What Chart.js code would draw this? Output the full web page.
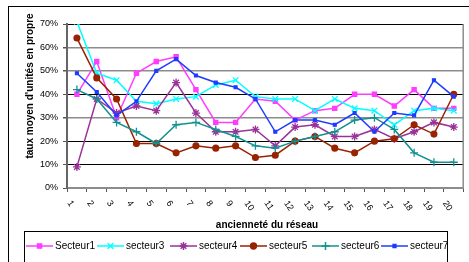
<!DOCTYPE html>
<html>
<head>
<meta charset="utf-8">
<script src="https://cdn.jsdelivr.net/npm/chart.js@4.4.1/dist/chart.umd.min.js"></script>
<style>
html,body{margin:0;padding:0;background:#fff;}
#wrap{width:469px;height:262px;position:relative;}
</style>
</head>
<body>
<div id="wrap"><canvas id="c" width="469" height="262"></canvas></div>
<script>
const categories = ['1','2','3','4','5','6','7','8','9','10','11','12','13','14','15','16','17','18','19','20'];
const yTicks = [0,10,20,30,40,50,60,70];
const seriesNames = ['Secteur1','secteur3','secteur4','secteur5','secteur6','secteur7'];
const secteur1 = [40,54,30,49,54,56,42,28,28,38,37,29,33,34,40,40,35,42,34,34];
const secteur3 = [71,49,46,37,36,38,39,44,46,39,38,38,33,38,34,33,27,33,34,33];
const secteur4 = [9,38,32,35,33,45,32,24,24,25,18,26,27,22,22,25,21,24,28,26];
const secteur5 = [64,47,38,19,19,15,18,17,18,13,14,20,22,17,15,20,21,27,23,40];
const secteur6 = [42,38,28,24,19,27,28,25,22,18,17,20,22,24,29,30,25,15,11,11];
const secteur7 = [49,41,31,37,50,55,48,45,43,38,24,29,29,27,32,24,32,31,46,39];

const styles = [
  {color:'#FF3CFF', style:'rect', r:2.9, bw:1.5},
  {color:'#00FFFF', style:'crossRot', r:4, bw:1.5},
  {color:'#993399', style:'star', r:4, bw:1.5},
  {color:'#992200', style:'circle', r:2.9, bw:1.5},
  {color:'#139191', style:'cross', r:4, bw:1.5},
  {color:'#1E3CFF', style:'rect', r:2, bw:1.5}
];
const allData = [secteur1, secteur3, secteur4, secteur5, secteur6, secteur7];

const datasets = allData.map((d,i)=>({
  label: seriesNames[i],
  data: d,
  borderColor: styles[i].color,
  backgroundColor: styles[i].color,
  borderWidth: styles[i].bw,
  pointStyle: styles[i].style,
  pointRadius: styles[i].r,
  pointBorderWidth: 1.3,
  pointBorderColor: styles[i].color,
  pointBackgroundColor: styles[i].color,
  tension: 0,
  fill: false,
  order: 6 - i
}));

const FONT = '"Liberation Sans", Arial, sans-serif';

const decor = {
  id: 'decor',
  beforeDatasetsDraw(chart) {
    const ctx = chart.ctx, a = chart.chartArea;
    ctx.save();
    ctx.strokeStyle = '#8c8c8c';
    ctx.lineWidth = 1.5;
    ctx.beginPath();
    ctx.moveTo(a.right - 0.5, a.top);
    ctx.lineTo(a.right - 0.5, a.bottom);
    ctx.stroke();
    ctx.restore();
  },
  afterDraw(chart) {
    const ctx = chart.ctx, a = chart.chartArea;
    const xs = chart.scales.x;
    ctx.save();
    ctx.strokeStyle = '#000';
    ctx.lineWidth = 1;
    ctx.strokeRect(8.5, 6.5, 520, 300);
    ctx.fillStyle = '#000';
    ctx.font = '9px ' + FONT;
    ctx.textAlign = 'center';
    ctx.textBaseline = 'middle';
    categories.forEach((c,i)=>{
      const x = xs.getPixelForValue(i);
      const w = ctx.measureText(c).width;
      ctx.save();
      ctx.translate(x - 6.5, 200 + 0.43*w + 1.5);
      ctx.rotate(Math.PI/180*55);
      ctx.fillText(c, 0, 0);
      ctx.restore();
    });
    ctx.font = 'bold 10px ' + FONT;
    ctx.textAlign = 'center';
    ctx.textBaseline = 'middle';
    ctx.fillText('ancienneté du réseau', 267, 225);
    ctx.save();
    ctx.translate(30, (a.top + a.bottom)/2 - 20);
    ctx.rotate(-Math.PI/2);
    ctx.fillText("taux moyen d'unités en propre", 0, 0);
    ctx.restore();
    ctx.strokeStyle = '#000';
    ctx.lineWidth = 1;
    ctx.strokeRect(24.5, 231.5, 423, 40);
    const lx = [26, 97, 170, 240, 312, 381];
    const ly = 246;
    ctx.font = '10px ' + FONT;
    ctx.textAlign = 'left';
    ctx.textBaseline = 'middle';
    seriesNames.forEach((n,i)=>{
      const s = styles[i];
      ctx.strokeStyle = s.color;
      ctx.lineWidth = 1.5;
      ctx.beginPath();
      ctx.moveTo(lx[i], ly);
      ctx.lineTo(lx[i] + 27, ly);
      ctx.stroke();
      Chart.helpers.drawPoint(ctx, {pointStyle: s.style, radius: s.r, borderWidth: 1.3}, lx[i] + 13.5, ly);
      if (s.style !== 'crossRot' && s.style !== 'cross' && s.style !== 'star') {
        ctx.fillStyle = s.color;
        ctx.fill();
      }
      ctx.fillStyle = '#000';
      ctx.fillText(n, lx[i] + 29, ly);
    });
    ctx.restore();
  }
};

new Chart(document.getElementById('c'), {
  type: 'line',
  data: { labels: categories, datasets },
  options: {
    responsive: false,
    animation: false,
    devicePixelRatio: 1,
    layout: { padding: { left: 0, right: 2, top: 24, bottom: 70 } },
    plugins: { legend: { display: false }, tooltip: { enabled: false } },
    scales: {
      x: {
        type: 'category',
        offset: true,
        grid: { offset: true, drawOnChartArea: false, drawTicks: true, tickLength: 4, color: '#555', lineWidth: 1 },
        border: { display: true, color: '#8c8c8c', width: 2 },
        ticks: { display: false },
        afterFit(s) { s.height = 4; }
      },
      y: {
        min: 0, max: 70,
        afterBuildTicks(s) { s.ticks = yTicks.map(v=>({value:v})); },
        grid: {
          color(ctx) {
            const v = ctx.tick && ctx.tick.value;
            if (v === 30 || v === 50 || v === 60) return '#8c8c8c';
            return '#000';
          },
          lineWidth(ctx) {
            const v = ctx.tick && ctx.tick.value;
            if (v === 30 || v === 50 || v === 60) return 1.5;
            return 1;
          },
          tickColor: '#555',
          tickLength: 4,
          drawTicks: true
        },
        border: { display: true, color: '#666', width: 2 },
        ticks: {
          padding: 5,
          font: { size: 9, family: FONT },
          color: '#000',
          callback: v => v + '%'
        },
        afterFit(s) { s.width = 67; }
      }
    }
  },
  plugins: [decor]
});
</script>
</body>
</html>
